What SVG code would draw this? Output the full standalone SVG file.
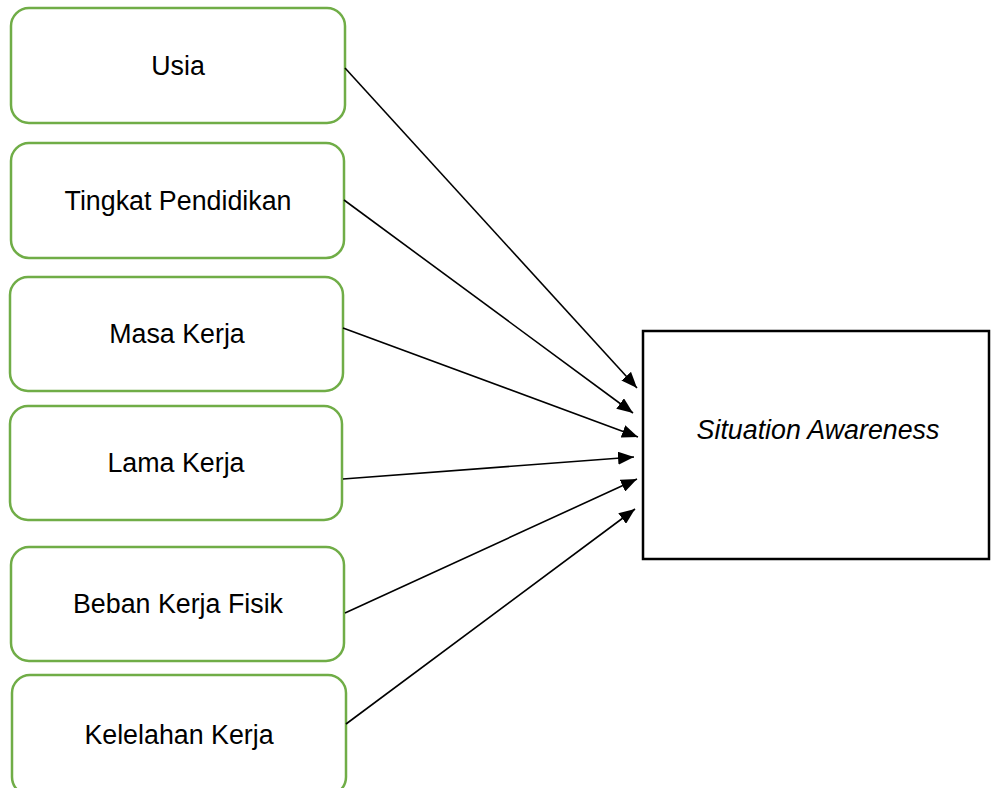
<svg xmlns="http://www.w3.org/2000/svg" width="993" height="788" viewBox="0 0 993 788">
<style>
.n{fill:#fff;stroke:#70AD47;stroke-width:2.5}
.t{font-family:"Liberation Sans",Arial,sans-serif;font-size:26.8px;fill:#000;text-anchor:middle}
.c{stroke:#000;stroke-width:1.6;fill:none;marker-end:url(#ah)}
</style>
<defs>
<marker id="ah" viewBox="0 0 10 10" refX="10" refY="5" markerWidth="16" markerHeight="13" markerUnits="userSpaceOnUse" orient="auto" preserveAspectRatio="none">
<path d="M0,0 L10,5 L0,10 Z" fill="#000"/>
</marker>
</defs>
<rect width="993" height="788" fill="#fff"/>
<g id="usia"><rect class="n" x="11" y="8" width="334" height="115" rx="18"/><text class="t" x="178" y="75">Usia</text></g>
<g id="pendidikan"><rect class="n" x="11" y="143" width="333" height="115" rx="18"/><text class="t" x="178" y="210">Tingkat Pendidikan</text></g>
<g id="masa"><rect class="n" x="10" y="277" width="333" height="114" rx="18"/><text class="t" x="177" y="343">Masa Kerja</text></g>
<g id="lama"><rect class="n" x="10" y="406" width="332" height="114" rx="18"/><text class="t" x="176" y="472">Lama Kerja</text></g>
<g id="beban"><rect class="n" x="11" y="547" width="333" height="114" rx="18"/><text class="t" x="178" y="613">Beban Kerja Fisik</text></g>
<g id="kelelahan"><rect class="n" x="12" y="675" width="334" height="120" rx="18"/><text class="t" x="179" y="744">Kelelahan Kerja</text></g>
<g id="sa"><rect x="643" y="331" width="346" height="228" fill="#fff" stroke="#000" stroke-width="2.5"/><text class="t" x="818" y="439" font-style="italic">Situation Awareness</text></g>
<g id="connectors">
<line class="c" x1="345" y1="68" x2="637" y2="388"/>
<line class="c" x1="344" y1="200" x2="633" y2="413"/>
<line class="c" x1="343" y1="328" x2="638" y2="437"/>
<line class="c" x1="343" y1="479" x2="634" y2="457"/>
<line class="c" x1="345" y1="613" x2="637" y2="479"/>
<line class="c" x1="346" y1="724" x2="635" y2="509"/>
</g>
</svg>
